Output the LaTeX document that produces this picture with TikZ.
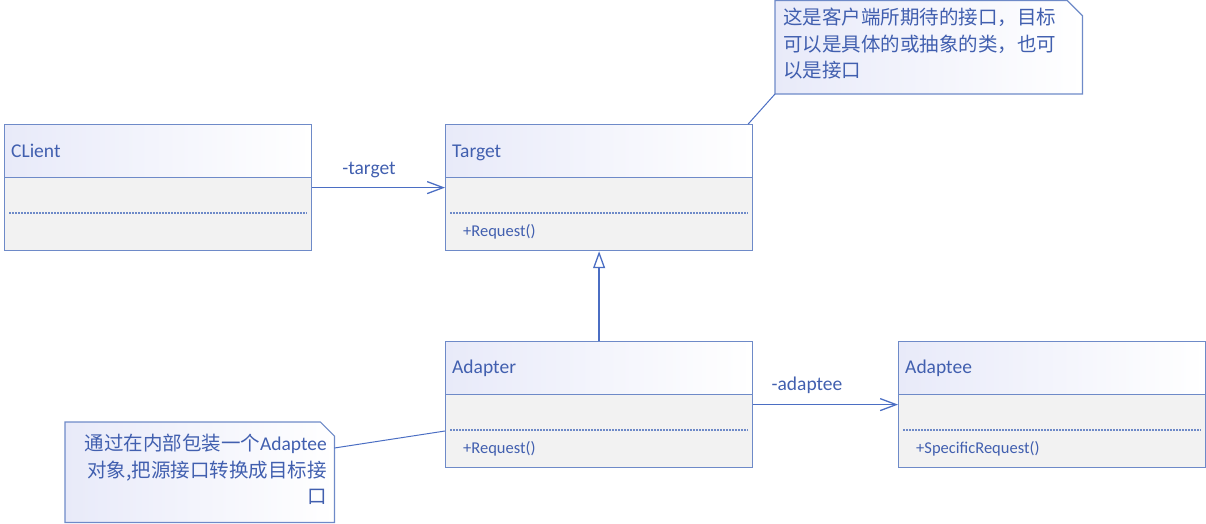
\documentclass[tikz,border=0pt]{standalone}
\usepackage{fontspec}
\setmainfont{Carlito}
\newfontfamily\cjk{Noto Sans CJK SC}
\usetikzlibrary{arrows.meta,calc}
\definecolor{uml}{RGB}{110,138,200}
\definecolor{conn}{RGB}{75,110,195}
\definecolor{umltext}{RGB}{65,95,175}
\definecolor{lav}{RGB}{232,234,249}
\definecolor{bodyfill}{RGB}{242,242,242}
\begin{document}
\begin{tikzpicture}[x=1pt,y=-1pt,
  classbody/.style={draw=uml, line width=1.2pt, fill=bodyfill, minimum width=307pt, minimum height=126pt, anchor=north west, inner sep=0pt},
  classhead/.style={draw=uml, line width=1.2pt, left color=lav, middle color=white, right color=white, minimum width=307pt, minimum height=53pt, anchor=north west, inner sep=0pt},
  nametext/.style={text=umltext, font=\fontsize{19.5}{23}\selectfont, anchor=base west, inner sep=0pt},
  methodtext/.style={text=umltext, font=\fontsize{16.5}{20}\selectfont, anchor=base west, inner sep=0pt},
  sep/.style={draw=uml, line width=1.2pt, dash pattern=on 2pt off 1pt},
  assoc/.style={draw=conn, line width=1.3pt, -{Straight Barb[length=16pt,width=12pt,line width=1.3pt]}},
  gen/.style={draw=conn, line width=1.3pt, -{Triangle[open,length=17pt,width=12pt,line width=1.3pt,fill=white]}},
  notebg/.style={minimum width=#1, anchor=north west, inner sep=0pt},
  noteshape/.style={draw=uml, line width=1.2pt, left color=lav, right color=white},
  notetext/.style={text=umltext, font=\fontsize{19.5}{26.5}\selectfont, inner sep=0pt},
  noteline/.style={draw=conn, line width=1pt},
  lbl/.style={text=umltext, font=\fontsize{19.5}{23}\selectfont, anchor=base, inner sep=0pt}
]
\useasboundingbox (0,0) rectangle (1206,523);

% Client
\node[classbody] (client) at (4,124) {};
\node[classhead] (clienthead) at (4,124) {};
\node[nametext] (clientname) at (11,157) {CLient};
\draw[sep] ([xshift=5pt,yshift=-89pt]client.north west) -- ([xshift=-5pt,yshift=-89pt]client.north east);

% Target
\node[classbody] (target) at (445,124) {};
\node[classhead] (targethead) at (445,124) {};
\node[nametext] (targetname) at (452,157) {Target};
\draw[sep] ([xshift=5pt,yshift=-89pt]target.north west) -- ([xshift=-5pt,yshift=-89pt]target.north east);
\node[methodtext] (targetop) at (463,236) {+Request()};

% Adapter
\node[classbody] (adapter) at (445,341) {};
\node[classhead] (adapterhead) at (445,341) {};
\node[nametext] (adaptername) at (452,373) {Adapter};
\draw[sep] ([xshift=5pt,yshift=-89pt]adapter.north west) -- ([xshift=-5pt,yshift=-89pt]adapter.north east);
\node[methodtext] (adapterop) at (463,453) {+Request()};

% Adaptee
\node[classbody] (adaptee) at (898,341) {};
\node[classhead] (adapteehead) at (898,341) {};
\node[nametext] (adapteename) at (905,373) {Adaptee};
\draw[sep] ([xshift=5pt,yshift=-89pt]adaptee.north west) -- ([xshift=-5pt,yshift=-89pt]adaptee.north east);
\node[methodtext] (adapteeop) at (916,453) {+SpecificRequest()};

% connectors
\draw[assoc] (client.east) -- (target.west);
\node[lbl] (lbltarget) at (369,174) {-target};
\draw[assoc] (adapter.east) -- (adaptee.west);
\node[lbl] (lbladaptee) at (807,390) {-adaptee};
\draw[gen] (adapter.north) -- (target.south);

% Note 1
\node[notebg=307pt, minimum height=93pt] (note1) at (775,0.6) {};
\path[noteshape] (note1.north west) -- ([xshift=-15pt]note1.north east) -- ([yshift=-15pt]note1.north east) -- (note1.south east) -- (note1.south west) -- cycle;
\node[notetext, anchor=north west, align=left] (note1text) at (783,8) {\cjk 这是客户端所期待的接口，目标\\\cjk 可以是具体的或抽象的类，也可\\\cjk 以是接口};
\draw[noteline] (note1.south west) -- ([xshift=-5pt]target.north east);

% Note 2
\node[notebg=269pt, minimum height=100pt] (note2) at (65,422) {};
\path[noteshape] (note2.north west) -- ([xshift=-14pt]note2.north east) -- ([yshift=-14pt]note2.north east) -- (note2.south east) -- (note2.south west) -- cycle;
\node[notetext, anchor=north east, align=right] (note2text) at (327,434) {{\cjk 通过在内部包装一个}Adaptee\\\cjk 对象,把源接口转换成目标接\\\cjk 口};
\draw[noteline] ([yshift=-26pt]note2.north east) -- ([yshift=-90pt]adapter.north west);
\end{tikzpicture}
\end{document}
